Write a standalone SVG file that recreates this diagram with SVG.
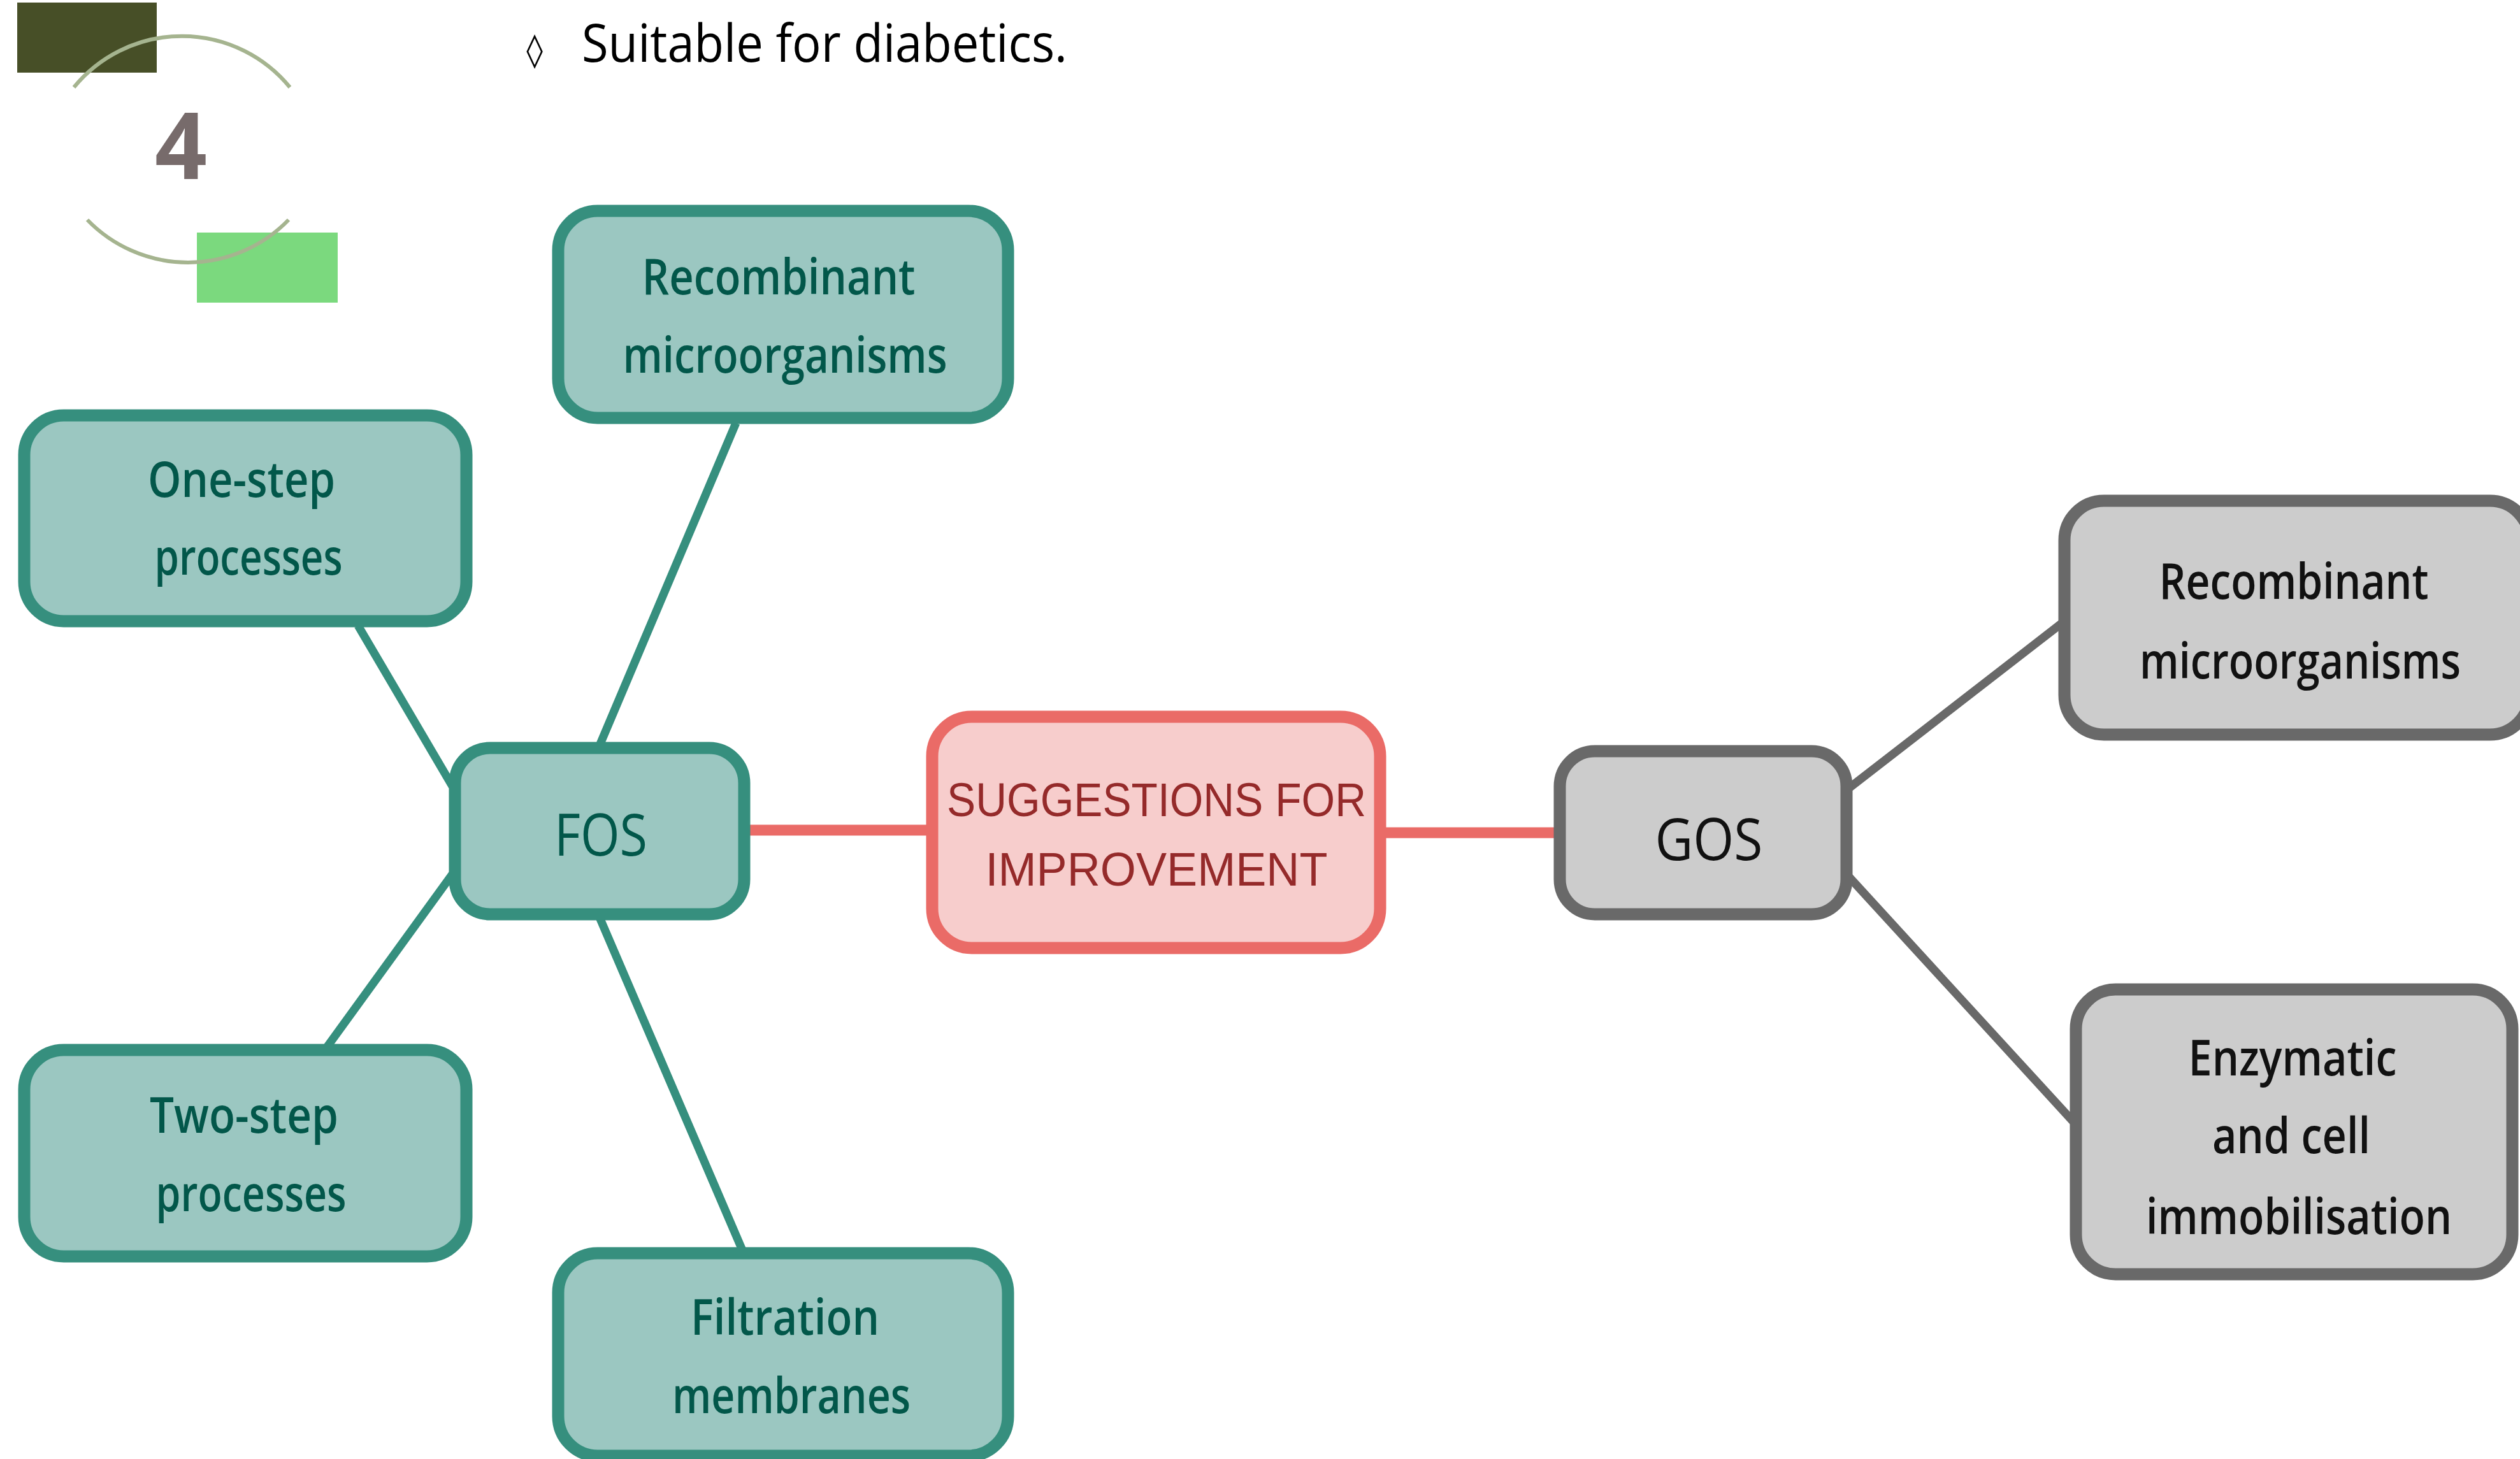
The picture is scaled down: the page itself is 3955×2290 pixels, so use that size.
<svg xmlns="http://www.w3.org/2000/svg" width="3955" height="2290" viewBox="0 0 3955 2290">
<style>
.teal rect{fill:#9BC7C1;stroke:#368F7E;stroke-width:19}
.grey rect{fill:#CCCCCC;stroke:#696969;stroke-width:19}
.red rect{fill:#F7CDCC;stroke:#EA6B67;stroke-width:19}
.tt{font-family:"Open Sans","Noto Sans",sans-serif;font-weight:600;font-size:78px;fill:#02574A}
.gt{font-family:"Open Sans","Noto Sans",sans-serif;font-weight:600;font-size:78px;fill:#111111}
.big{font-weight:400;font-size:92px}
.rt{font-family:"Liberation Sans",Arial,sans-serif;font-size:74px;fill:#952A2A}
.lt{stroke:#368F7E;stroke-width:13;fill:none}
.lg{stroke:#696969;stroke-width:13;fill:none}
.lr{stroke:#EA6B67;stroke-width:17;fill:none}
</style>
<rect width="3955" height="2290" fill="#FFFFFF"/>
<g id="decor">
<rect x="27" y="4" width="219" height="110" fill="#474F27"/>
<rect x="309" y="365" width="221" height="110" fill="#7BD97E"/>
<path d="M116 137 A219 219 0 0 1 455 137" fill="none" stroke="#A5B48F" stroke-width="6"/>
<path d="M137 345 A220 220 0 0 0 453 345" fill="none" stroke="#A5B48F" stroke-width="6"/>
<text x="284" y="281" text-anchor="middle" font-family="Open Sans, sans-serif" font-weight="700" font-size="145" fill="#776B6B" textLength="82" lengthAdjust="spacingAndGlyphs">4</text>
<text x="839" y="96" text-anchor="middle" font-family="DejaVu Sans, sans-serif" font-size="52" fill="#000000">◊</text>
<text x="913" y="97" font-family="Open Sans, sans-serif" font-size="82" fill="#000000" textLength="762" lengthAdjust="spacingAndGlyphs">Suitable for diabetics.</text>
</g>
<g id="connectors">
<line class="lt" x1="941" y1="1170" x2="1155" y2="664"/>
<line class="lt" x1="562" y1="982" x2="710" y2="1234"/>
<line class="lt" x1="710" y1="1372" x2="512" y2="1645"/>
<line class="lt" x1="941" y1="1440" x2="1165" y2="1962"/>
<line class="lr" x1="1168" y1="1303" x2="1463" y2="1303"/>
<line class="lr" x1="2166" y1="1307" x2="2448" y2="1307"/>
<line class="lg" x1="2898" y1="1240" x2="3240" y2="975"/>
<line class="lg" x1="2898" y1="1372" x2="3258" y2="1765"/>
</g>
<g id="n-suggest" class="red">
<rect x="1463" y="1125" width="703" height="363" rx="62"/>
<text class="rt" x="1815" y="1281" text-anchor="middle" textLength="658" lengthAdjust="spacingAndGlyphs">SUGGESTIONS FOR</text>
<text class="rt" x="1815" y="1390" text-anchor="middle" textLength="537" lengthAdjust="spacingAndGlyphs">IMPROVEMENT</text>
</g>
<g id="n-fos" class="teal">
<rect x="714" y="1174" width="454" height="261" rx="55"/>
<text class="tt big" x="943" y="1343" text-anchor="middle" textLength="146" lengthAdjust="spacingAndGlyphs">FOS</text>
</g>
<g id="n-fos-recomb" class="teal">
<rect x="876" y="331" width="706" height="325" rx="62"/>
<text class="tt" x="1222" y="462" text-anchor="middle" textLength="429" lengthAdjust="spacingAndGlyphs">Recombinant</text>
<text class="tt" x="1232" y="585" text-anchor="middle" textLength="509" lengthAdjust="spacingAndGlyphs">microorganisms</text>
</g>
<g id="n-onestep" class="teal">
<rect x="38" y="652" width="694" height="323" rx="62"/>
<text class="tt" x="379" y="780" text-anchor="middle" textLength="294" lengthAdjust="spacingAndGlyphs">One-step</text>
<text class="tt" x="390" y="902" text-anchor="middle" textLength="295" lengthAdjust="spacingAndGlyphs">processes</text>
</g>
<g id="n-twostep" class="teal">
<rect x="38" y="1648" width="694" height="324" rx="62"/>
<text class="tt" x="383" y="1778" text-anchor="middle" textLength="296" lengthAdjust="spacingAndGlyphs">Two-step</text>
<text class="tt" x="394" y="1901" text-anchor="middle" textLength="299" lengthAdjust="spacingAndGlyphs">processes</text>
</g>
<g id="n-filtration" class="teal">
<rect x="876" y="1967" width="706" height="318" rx="62"/>
<text class="tt" x="1232" y="2095" text-anchor="middle" textLength="296" lengthAdjust="spacingAndGlyphs">Filtration</text>
<text class="tt" x="1242" y="2218" text-anchor="middle" textLength="374" lengthAdjust="spacingAndGlyphs">membranes</text>
</g>
<g id="n-gos" class="grey">
<rect x="2448" y="1179" width="450" height="256" rx="55"/>
<text class="gt big" x="2682" y="1350" text-anchor="middle" textLength="169" lengthAdjust="spacingAndGlyphs">GOS</text>
</g>
<g id="n-gos-recomb" class="grey">
<rect x="3240" y="786" width="730" height="367" rx="62"/>
<text class="gt" x="3600" y="940" text-anchor="middle" textLength="423" lengthAdjust="spacingAndGlyphs">Recombinant</text>
<text class="gt" x="3610" y="1065" text-anchor="middle" textLength="504" lengthAdjust="spacingAndGlyphs">microorganisms</text>
</g>
<g id="n-enzymatic" class="grey">
<rect x="3258" y="1553" width="685" height="447" rx="62"/>
<text class="gt" x="3598" y="1688" text-anchor="middle" textLength="327" lengthAdjust="spacingAndGlyphs">Enzymatic</text>
<text class="gt" x="3596" y="1810" text-anchor="middle" textLength="248" lengthAdjust="spacingAndGlyphs">and cell</text>
<text class="gt" x="3608" y="1937" text-anchor="middle" textLength="480" lengthAdjust="spacingAndGlyphs">immobilisation</text>
</g>
</svg>
